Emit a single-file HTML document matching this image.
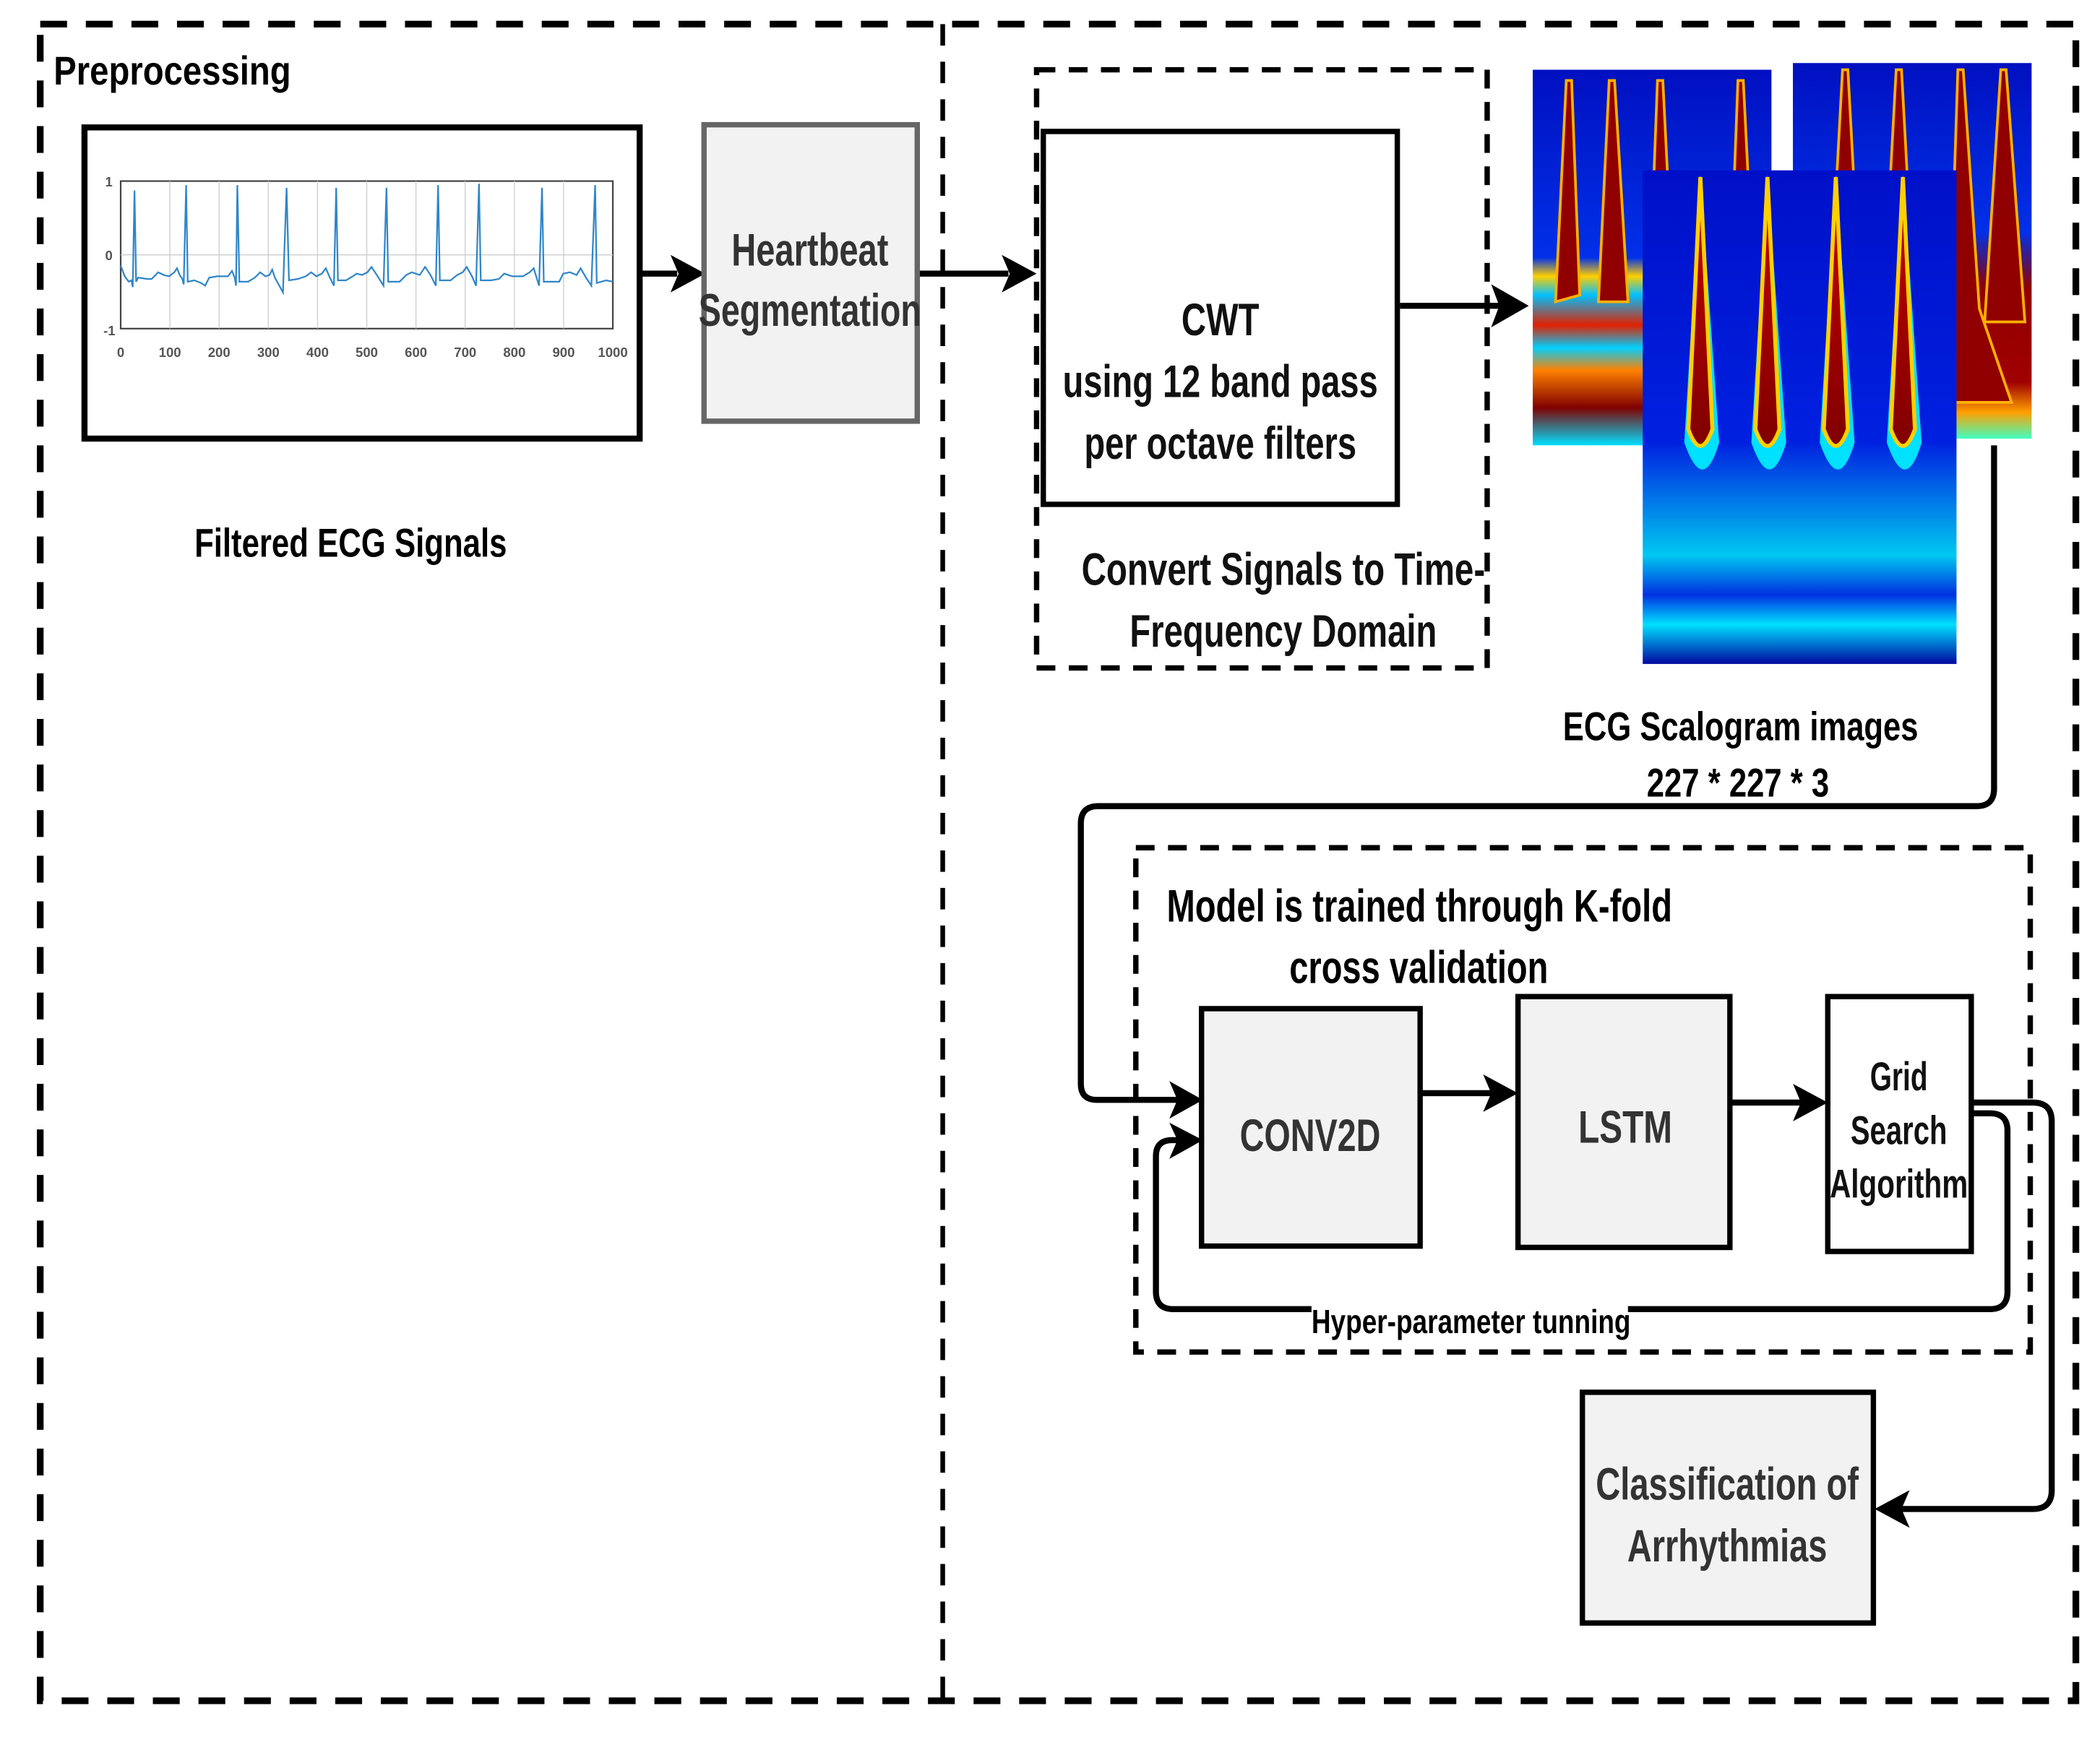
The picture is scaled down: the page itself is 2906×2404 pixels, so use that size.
<!DOCTYPE html>
<html><head><meta charset="utf-8"><style>html,body{margin:0;padding:0;background:#fff}svg{display:block}text{font-family:"Liberation Sans Narrow","Liberation Sans",sans-serif;font-weight:bold}</style></head>
<body>
<svg width="2906" height="2404" viewBox="0 0 1566 1295" preserveAspectRatio="none" xmlns="http://www.w3.org/2000/svg">
<defs>
<linearGradient id="core" x1="0" y1="0" x2="0" y2="1"><stop offset="0" stop-color="#ffff60"/><stop offset="0.1" stop-color="#c00000"/><stop offset="1" stop-color="#800000"/></linearGradient>
<linearGradient id="fade" x1="0" y1="0" x2="0" y2="1"><stop offset="0" stop-color="#0010c8"/><stop offset="0.55" stop-color="#0020e0"/><stop offset="0.78" stop-color="#00c8f0"/><stop offset="0.86" stop-color="#0030e0"/><stop offset="0.92" stop-color="#00e0ff"/><stop offset="1" stop-color="#0008a0"/></linearGradient>
<linearGradient id="bl" x1="0" y1="0" x2="0" y2="1"><stop offset="0" stop-color="#0010c0"/><stop offset="0.5" stop-color="#0030e8"/><stop offset="0.55" stop-color="#ffd000"/><stop offset="0.6" stop-color="#00c0ff"/><stop offset="0.68" stop-color="#e02000"/><stop offset="0.74" stop-color="#00d0ff"/><stop offset="0.8" stop-color="#ff8000"/><stop offset="0.9" stop-color="#800000"/><stop offset="1" stop-color="#00e0ff"/></linearGradient>
<linearGradient id="br" x1="0" y1="0" x2="0" y2="1"><stop offset="0" stop-color="#0010c0"/><stop offset="0.45" stop-color="#0030e8"/><stop offset="0.6" stop-color="#900000"/><stop offset="0.85" stop-color="#a00000"/><stop offset="0.93" stop-color="#ffa000"/><stop offset="1" stop-color="#40ffc0"/></linearGradient>
</defs>

<rect x="30" y="18" width="1518" height="1250" fill="none" stroke="#000" stroke-width="5" stroke-dasharray="20 14"/>
<line x1="703" y1="18" x2="703" y2="1268" stroke="#000" stroke-width="3.5" stroke-dasharray="16 12"/>
<text x="40" y="63" font-size="30" textLength="177" lengthAdjust="spacingAndGlyphs">Preprocessing</text>

<rect x="63" y="95" width="414" height="232" fill="#fff" stroke="#000" stroke-width="4.5"/>
<rect x="90" y="135" width="367" height="110" fill="none" stroke="#444" stroke-width="1.2"/>
<g stroke="#ccc" stroke-width="0.7">
<line x1="126.7" y1="135" x2="126.7" y2="245"/><line x1="163.4" y1="135" x2="163.4" y2="245"/><line x1="200.1" y1="135" x2="200.1" y2="245"/><line x1="236.8" y1="135" x2="236.8" y2="245"/><line x1="273.5" y1="135" x2="273.5" y2="245"/><line x1="310.2" y1="135" x2="310.2" y2="245"/><line x1="346.9" y1="135" x2="346.9" y2="245"/><line x1="383.6" y1="135" x2="383.6" y2="245"/><line x1="420.3" y1="135" x2="420.3" y2="245"/><line x1="90" y1="190" x2="457" y2="190"/>
</g>
<path fill="none" stroke="#2f86c8" stroke-width="1.2" d="M90,198 L93,206 L96,210 L98,209 L99,214 L100.3,142 L101.5,210 L103,207 L110,208 L113,208 L118,203 L122,205 L126,206 L130,203 L132,200 L134,205 L136,208 L137,212 L138.8,138 L140,210 L145,209 L150,211 L153,213 L156,207 L162,206 L170,206 L173,202 L175,207 L176,213 L177,138 L178.5,210 L185,210 L190,207 L194,203 L198,206 L201,205 L203,201 L205,207 L211,218 L213.7,140 L215.5,209 L222,208 L228,206 L232,203 L236,206 L240,204 L243,200 L246,207 L249,213 L250.7,140 L252,209 L258,209 L263,206 L266,204 L270,205 L274,203 L277,199 L281,205 L286,213 L288.2,140 L289.5,210 L298,210 L303,205 L307,203 L313,205 L317,199 L321,205 L325,213 L326.7,138 L328,209 L336,209 L341,205 L345,203 L348,199 L352,206 L355,213 L357.2,137 L358.5,209 L366,209 L372,208 L376,204 L382,206 L390,206 L395,203 L398,200 L402,213 L404.2,140 L405.5,210 L412,210 L417,210 L420,204 L425,203 L430,205 L433,200 L437,207 L441,213 L443.8,138 L445,211 L452,209 L457,210"/>
<g font-size="10" fill="#555">
<text x="84" y="139" text-anchor="end" font-weight="normal">1</text><text x="84" y="194" text-anchor="end" font-weight="normal">0</text><text x="86" y="250" text-anchor="end" font-weight="normal">-1</text>
<g text-anchor="middle"><text x="90" y="266" font-weight="normal">0</text><text x="126.7" y="266" font-weight="normal">100</text><text x="163.4" y="266" font-weight="normal">200</text><text x="200.1" y="266" font-weight="normal">300</text><text x="236.8" y="266" font-weight="normal">400</text><text x="273.5" y="266" font-weight="normal">500</text><text x="310.2" y="266" font-weight="normal">600</text><text x="346.9" y="266" font-weight="normal">700</text><text x="383.6" y="266" font-weight="normal">800</text><text x="420.3" y="266" font-weight="normal">900</text><text x="457" y="266" font-weight="normal">1000</text></g>
</g>
<text x="145" y="415" font-size="30" textLength="233" lengthAdjust="spacingAndGlyphs">Filtered ECG Signals</text>

<line x1="477" y1="204" x2="505" y2="204" stroke="#000" stroke-width="4.5"/><polygon points="500,190 526,204 500,218 506,204"/>
<line x1="684" y1="204" x2="752" y2="204" stroke="#000" stroke-width="4.5"/><polygon points="747,190 773,204 747,218 753,204"/>

<rect x="525" y="93" width="159" height="221" fill="#f2f2f2" stroke="#666" stroke-width="4"/>
<text x="604" y="198" font-size="34" text-anchor="middle" fill="#333" textLength="117" lengthAdjust="spacingAndGlyphs">Heartbeat</text>
<text x="604" y="243" font-size="34" text-anchor="middle" fill="#333" textLength="166" lengthAdjust="spacingAndGlyphs">Segmentation</text>

<rect x="773" y="52" width="336" height="446" fill="none" stroke="#000" stroke-width="4" stroke-dasharray="14 10"/>
<rect x="778" y="98" width="264" height="278" fill="#fff" stroke="#000" stroke-width="4"/>
<g font-size="34" text-anchor="middle" fill="#111">
<text x="910" y="250" textLength="58" lengthAdjust="spacingAndGlyphs">CWT</text>
<text x="910" y="296" textLength="235" lengthAdjust="spacingAndGlyphs">using 12 band pass</text>
<text x="910" y="342" textLength="203" lengthAdjust="spacingAndGlyphs">per octave filters</text>
<text x="957" y="436" textLength="301" lengthAdjust="spacingAndGlyphs">Convert Signals to Time-</text>
<text x="957" y="482" textLength="229" lengthAdjust="spacingAndGlyphs">Frequency Domain</text>
</g>
<line x1="1044" y1="228" x2="1118" y2="228" stroke="#000" stroke-width="4.5"/><polygon points="1112,212 1140,228 1112,244 1118,228"/>

<rect x="1143" y="52" width="178" height="280" fill="url(#bl)"/>
<g fill="#900000" stroke="#ffb000" stroke-width="2"><path d="M1168,60 L1172,60 L1178,220 L1160,225 Z"/><path d="M1200,60 L1204,60 L1214,225 L1192,225 Z"/><path d="M1236,60 L1240,60 L1248,220 L1230,220 Z"/><path d="M1296,60 L1300,60 L1308,220 L1290,220 Z"/></g>
<rect x="1337" y="47" width="178" height="280" fill="url(#br)"/>
<g fill="#900000" stroke="#ffb000" stroke-width="2"><path d="M1374,52 L1378,52 L1386,200 L1366,200 Z"/><path d="M1414,52 L1418,52 L1426,200 L1406,200 Z"/><path d="M1460,52 L1464,52 L1476,230 L1500,300 L1452,300 Z"/><path d="M1492,52 L1496,52 L1510,240 L1480,240 Z"/></g>
<rect x="1225" y="127" width="234" height="368" fill="url(#fade)"/>
<g fill="#00e0ff">
<path d="M1268,130 L1282,330 Q1270,370 1256,330 Z"/><path d="M1318,130 L1332,330 Q1320,370 1306,330 Z"/><path d="M1369,130 L1383,330 Q1371,370 1357,330 Z"/><path d="M1419,130 L1433,330 Q1421,370 1407,330 Z"/>
</g>
<g fill="url(#core)" stroke="#ffd000" stroke-width="3">
<path d="M1268,132 L1277,320 Q1268,345 1259,320 Z"/><path d="M1318,132 L1327,320 Q1318,345 1309,320 Z"/><path d="M1369,132 L1378,320 Q1369,345 1360,320 Z"/><path d="M1419,132 L1428,320 Q1419,345 1410,320 Z"/>
</g>

<text x="1298" y="552" font-size="30" text-anchor="middle" textLength="265" lengthAdjust="spacingAndGlyphs">ECG Scalogram images</text>
<text x="1296" y="594" font-size="30" text-anchor="middle" textLength="136" lengthAdjust="spacingAndGlyphs">227 * 227 * 3</text>

<path d="M1487,332 L1487,588 Q1487,601 1474,601 L819,601 Q806,601 806,614 L806,808 Q806,820 818,820 L878,820" fill="none" stroke="#000" stroke-width="4.5"/>
<polygon points="872,806 897,820 872,834 878,820"/>

<rect x="847" y="632" width="667" height="376" fill="none" stroke="#000" stroke-width="4" stroke-dasharray="14 10"/>
<text x="870" y="687" font-size="34" textLength="377" lengthAdjust="spacingAndGlyphs">Model is trained through K-fold</text>
<text x="1058" y="733" font-size="34" text-anchor="middle" textLength="193" lengthAdjust="spacingAndGlyphs">cross validation</text>

<rect x="896" y="752" width="163" height="177" fill="#f2f2f2" stroke="#000" stroke-width="4"/>
<text x="977" y="858" font-size="34" text-anchor="middle" fill="#333" textLength="105" lengthAdjust="spacingAndGlyphs">CONV2D</text>
<rect x="1132" y="743" width="158" height="187" fill="#f2f2f2" stroke="#000" stroke-width="4"/>
<text x="1212" y="852" font-size="34" text-anchor="middle" fill="#333" textLength="70" lengthAdjust="spacingAndGlyphs">LSTM</text>
<rect x="1363" y="743" width="107" height="190" fill="#fff" stroke="#000" stroke-width="4"/>
<g font-size="30" text-anchor="middle" fill="#111">
<text x="1416" y="813" textLength="43" lengthAdjust="spacingAndGlyphs">Grid</text>
<text x="1416" y="853" textLength="72" lengthAdjust="spacingAndGlyphs">Search</text>
<text x="1416" y="893" textLength="103" lengthAdjust="spacingAndGlyphs">Algorithm</text>
</g>

<line x1="1059" y1="815" x2="1112" y2="815" stroke="#000" stroke-width="4.5"/><polygon points="1106,801 1132,815 1106,829 1112,815"/>
<line x1="1290" y1="822" x2="1343" y2="822" stroke="#000" stroke-width="4.5"/><polygon points="1337,808 1363,822 1337,836 1343,822"/>

<path d="M1470,830 L1484,830 Q1497,830 1497,843 L1497,963 Q1497,976 1484,976 L875,976 Q862,976 862,963 L862,862 Q862,850 874,850 L878,850" fill="none" stroke="#000" stroke-width="4.5"/>
<polygon points="872,837 897,850 872,864 878,850"/>
<rect x="978" y="970" width="236" height="14" fill="#fff"/>
<text x="1097" y="994" font-size="25" text-anchor="middle" textLength="238" lengthAdjust="spacingAndGlyphs">Hyper-parameter tunning</text>

<path d="M1470,822 L1516,822 Q1530,822 1530,836 L1530,1111 Q1530,1125 1516,1125 L1418,1125" fill="none" stroke="#000" stroke-width="4.5"/>
<polygon points="1424,1111 1398,1125 1424,1139 1418,1125"/>

<rect x="1180" y="1038" width="217" height="172" fill="#f2f2f2" stroke="#000" stroke-width="4"/>
<text x="1288" y="1118" font-size="34" text-anchor="middle" fill="#333" textLength="196" lengthAdjust="spacingAndGlyphs">Classification of</text>
<text x="1288" y="1164" font-size="34" text-anchor="middle" fill="#333" textLength="149" lengthAdjust="spacingAndGlyphs">Arrhythmias</text>
</svg>
</body></html>
